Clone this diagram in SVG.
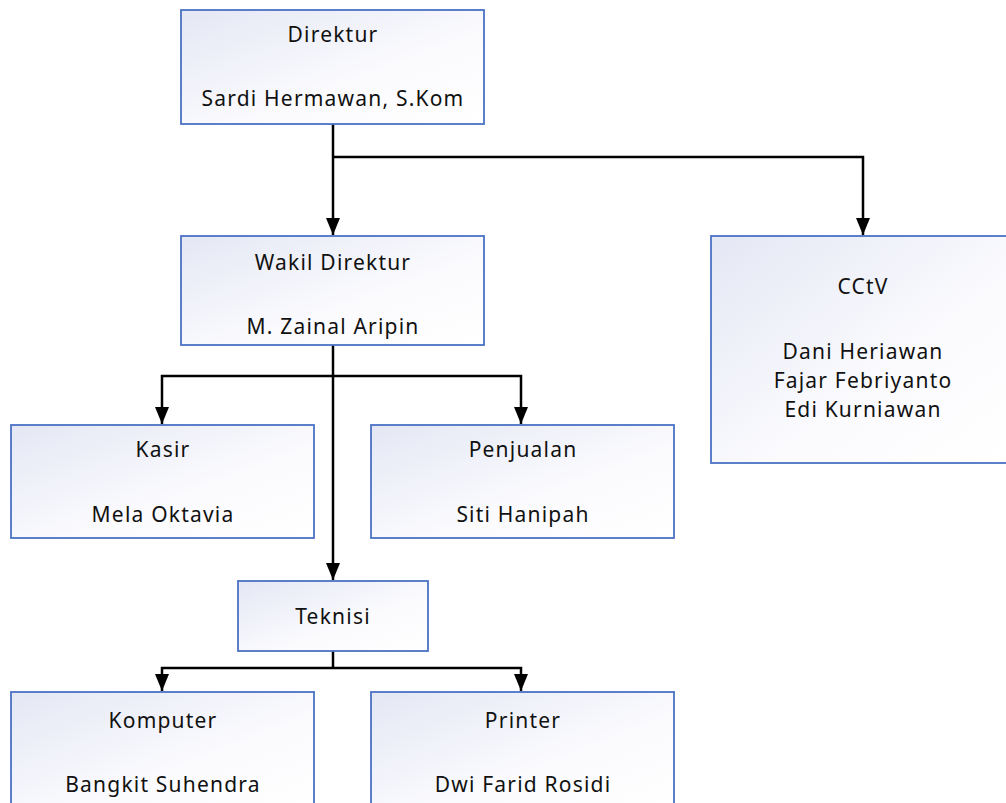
<svg xmlns="http://www.w3.org/2000/svg" width="1006" height="803" viewBox="0 0 1006 803">
<style>
.box{fill:url(#g);stroke:#4a72c4;stroke-width:1.8}
.t{font-family:"Noto Sans","Liberation Sans",sans-serif;font-size:21px;fill:#111;text-anchor:middle;letter-spacing:1.2px}
.c{fill:none;stroke:#000;stroke-width:2.5}
</style>
<defs>
<linearGradient id="g" x1="0" y1="0" x2="1" y2="1">
<stop offset="0" stop-color="#e4e7f4"/>
<stop offset="0.6" stop-color="#fbfbfe"/>
<stop offset="1" stop-color="#ffffff"/>
</linearGradient>
<marker id="a" viewBox="0 0 17 14" refX="17" refY="7" markerWidth="17" markerHeight="14" markerUnits="userSpaceOnUse" orient="auto">
<path d="M0,0 L17,7 L0,14 Z" fill="#000"/>
</marker>
</defs>
<g id="connectors">
<path class="c" d="M333,124 V235" marker-end="url(#a)"/>
<path class="c" d="M333,157 H863 V235" marker-end="url(#a)"/>
<path class="c" d="M333,345 V580" marker-end="url(#a)"/>
<path class="c" d="M333,376 H162 V424" marker-end="url(#a)"/>
<path class="c" d="M333,376 H521 V424" marker-end="url(#a)"/>
<path class="c" d="M333,651 V668"/>
<path class="c" d="M333,668 H162 V691" marker-end="url(#a)"/>
<path class="c" d="M333,668 H521 V691" marker-end="url(#a)"/>
</g>
<g id="direktur">
<rect class="box" x="181" y="10" width="303" height="114"/>
<text class="t" x="333" y="42">Direktur</text>
<text class="t" x="333" y="106">Sardi Hermawan, S.Kom</text>
</g>
<g id="wakil">
<rect class="box" x="181" y="236" width="303" height="109"/>
<text class="t" x="333" y="270">Wakil Direktur</text>
<text class="t" x="333" y="334">M. Zainal Aripin</text>
</g>
<g id="cctv">
<rect class="box" x="711" y="236" width="297" height="227"/>
<text class="t" x="863" y="294">CCtV</text>
<text class="t" x="863" y="359">Dani Heriawan</text>
<text class="t" x="863" y="388">Fajar Febriyanto</text>
<text class="t" x="863" y="417">Edi Kurniawan</text>
</g>
<g id="kasir">
<rect class="box" x="11" y="425" width="303" height="113"/>
<text class="t" x="163" y="457">Kasir</text>
<text class="t" x="163" y="522">Mela Oktavia</text>
</g>
<g id="penjualan">
<rect class="box" x="371" y="425" width="303" height="113"/>
<text class="t" x="523" y="457">Penjualan</text>
<text class="t" x="523" y="522">Siti Hanipah</text>
</g>
<g id="teknisi">
<rect class="box" x="238" y="581" width="190" height="70"/>
<text class="t" x="333" y="624">Teknisi</text>
</g>
<g id="komputer">
<rect class="box" x="11" y="692" width="303" height="120"/>
<text class="t" x="163" y="728">Komputer</text>
<text class="t" x="163" y="792">Bangkit Suhendra</text>
</g>
<g id="printer">
<rect class="box" x="371" y="692" width="303" height="120"/>
<text class="t" x="523" y="728">Printer</text>
<text class="t" x="523" y="792">Dwi Farid Rosidi</text>
</g>
</svg>
